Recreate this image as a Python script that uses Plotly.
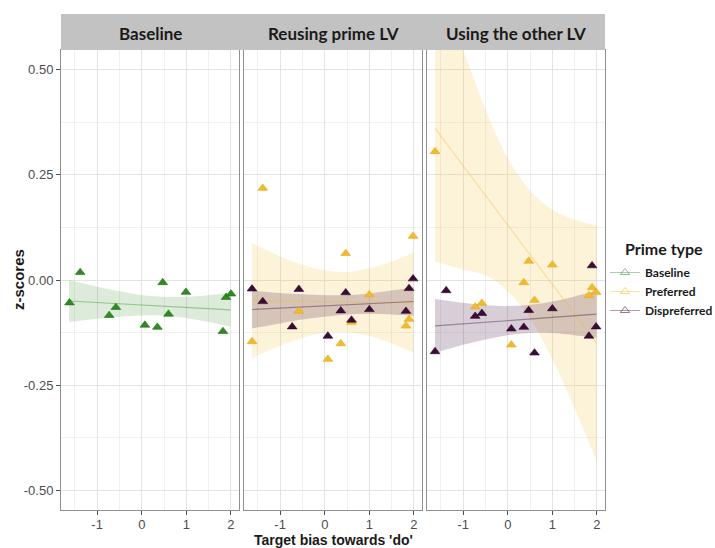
import plotly.graph_objects as go

# ---- data -------------------------------------------------------------
panel_titles = ["Baseline", "Reusing prime LV", "Using the other LV"]
group_names = ["Baseline", "Preferred", "Dispreferred"]
x_ticks = [-1, 0, 1, 2]
y_ticks = [-0.50, -0.25, 0.00, 0.25, 0.50]
y_tick_text = ["-0.50", "-0.25", "0.00", "0.25", "0.50"]

# points: target bias (x) vs z-score (y)
baseline_x = [-1.62, -1.38, -0.73, -0.58, 0.07, 0.35, 0.47, 0.60, 0.99, 1.82, 1.89, 2.00]
baseline_y = [-0.054, 0.018, -0.084, -0.065, -0.107, -0.112, -0.006, -0.081, -0.029, -0.122, -0.041, -0.033]

reuse_pref_x = [-1.63, -1.39, -0.58, 0.07, 0.36, 0.47, 0.60, 1.00, 1.82, 1.89, 1.98]
reuse_pref_y = [-0.146, 0.218, -0.074, -0.188, -0.151, 0.063, -0.100, -0.035, -0.109, -0.093, 0.104]
reuse_disp_x = [-1.63, -1.39, -0.73, -0.58, 0.07, 0.36, 0.47, 0.60, 1.00, 1.82, 1.89, 1.98]
reuse_disp_y = [-0.021, -0.051, -0.111, -0.022, -0.133, -0.073, -0.030, -0.095, -0.070, -0.074, -0.020, 0.003]

other_pref_x = [-1.63, -0.73, -0.58, 0.08, 0.36, 0.47, 0.60, 1.00, 1.82, 1.89, 1.98]
other_pref_y = [0.305, -0.064, -0.055, -0.154, -0.006, 0.045, -0.048, 0.036, -0.037, -0.018, -0.029]
other_disp_x = [-1.63, -1.38, -0.73, -0.58, 0.08, 0.36, 0.47, 0.60, 1.00, 1.82, 1.89, 1.98]
other_disp_y = [-0.170, -0.025, -0.086, -0.079, -0.116, -0.112, -0.072, -0.173, -0.068, -0.133, 0.034, -0.111]

# fitted lines (end points) and 95% confidence bands
fit_x = [-1.63, 1.99]
baseline_fit = [-0.050, -0.071]
reuse_pref_fit = [-0.049, -0.054]
reuse_disp_fit = [-0.070, -0.051]
other_pref_fit = [0.360, -0.150]
other_disp_fit = [-0.109, -0.081]

band_x = [-1.63, -1.0, -0.5, 0.0, 0.5, 1.0, 1.5, 1.99]
baseline_hi = [0.000, -0.016, -0.027, -0.036, -0.040, -0.040, -0.036, -0.031]
baseline_lo = [-0.100, -0.092, -0.087, -0.084, -0.084, -0.090, -0.100, -0.111]
reuse_pref_hi = [0.087, 0.056, 0.036, 0.023, 0.019, 0.028, 0.044, 0.065]
reuse_pref_lo = [-0.185, -0.156, -0.137, -0.125, -0.124, -0.133, -0.151, -0.173]
reuse_disp_hi = [-0.025, -0.031, -0.034, -0.036, -0.036, -0.032, -0.025, -0.017]
reuse_disp_lo = [-0.115, -0.103, -0.094, -0.087, -0.082, -0.080, -0.082, -0.085]
other_pref_hi = [0.690, 0.545, 0.405, 0.290, 0.212, 0.167, 0.143, 0.130]
other_pref_lo = [0.044, 0.025, 0.011, -0.027, -0.092, -0.189, -0.305, -0.430]
other_disp_hi = [-0.045, -0.054, -0.060, -0.062, -0.059, -0.051, -0.039, -0.025]
other_disp_lo = [-0.173, -0.154, -0.141, -0.131, -0.126, -0.126, -0.131, -0.137]

# ---- style ------------------------------------------------------------
COLORS = {"Baseline": (46, 139, 34), "Preferred": (243, 187, 43), "Dispreferred": (61, 11, 55)}
EDGE = {"Baseline": "#256f1b", "Preferred": "#e0a820", "Dispreferred": "#2a0626"}
BAND_ALPHA = {"Baseline": 0.17, "Preferred": 0.18, "Dispreferred": 0.20}
LINE_ALPHA = 0.4


def rgba(group, a):
    r, g, b = COLORS[group]
    return f"rgba({r},{g},{b},{a})"


panels = [
    [("Baseline", baseline_x, baseline_y, baseline_fit, baseline_hi, baseline_lo)],
    [("Preferred", reuse_pref_x, reuse_pref_y, reuse_pref_fit, reuse_pref_hi, reuse_pref_lo),
     ("Dispreferred", reuse_disp_x, reuse_disp_y, reuse_disp_fit, reuse_disp_hi, reuse_disp_lo)],
    [("Preferred", other_pref_x, other_pref_y, other_pref_fit, other_pref_hi, other_pref_lo),
     ("Dispreferred", other_disp_x, other_disp_y, other_disp_fit, other_disp_hi, other_disp_lo)],
]

fig = go.Figure()

for i, groups in enumerate(panels):
    sfx = "" if i == 0 else str(i + 1)
    xa, ya = "x" + sfx, "y" + sfx
    # confidence bands
    for g, px, py, fit, hi, lo in groups:
        fig.add_trace(go.Scatter(x=band_x, y=lo, mode="lines", line=dict(width=0, shape="spline"),
                                 xaxis=xa, yaxis=ya, showlegend=False, hoverinfo="skip"))
        fig.add_trace(go.Scatter(x=band_x, y=hi, mode="lines", line=dict(width=0, shape="spline"),
                                 fill="tonexty", fillcolor=rgba(g, BAND_ALPHA[g]),
                                 xaxis=xa, yaxis=ya, showlegend=False, hoverinfo="skip"))
    # fitted lines
    for g, px, py, fit, hi, lo in groups:
        fig.add_trace(go.Scatter(x=fit_x, y=fit, mode="lines", line=dict(width=1.1, color=rgba(g, LINE_ALPHA)),
                                 xaxis=xa, yaxis=ya, showlegend=False, hoverinfo="skip"))
    # points
    for g, px, py, fit, hi, lo in groups:
        fig.add_trace(go.Scatter(x=px, y=py, mode="markers",
                                 marker=dict(symbol="triangle-up", size=8.5, color=rgba(g, 1),
                                             line=dict(width=0.6, color=EDGE[g])),
                                 xaxis=xa, yaxis=ya, showlegend=False, name=g))

# legend entries
for g in group_names:
    fig.add_trace(go.Scatter(x=[None], y=[None], mode="lines+markers", name=f"<b>{g}</b>",
                             line=dict(width=1, color=rgba(g, LINE_ALPHA)),
                             marker=dict(symbol="triangle-up-open", size=8, color=rgba(g, 0.55),
                                         line=dict(width=1)),
                             showlegend=True))

# ---- layout -----------------------------------------------------------
W, H = 715, 548
ML, MR, MT, MB = 61, 110, 50, 38
PW = W - ML - MR          # 544
PH = H - MT - MB          # 460
panel_w, gap = 178, 5
domains = [[(k * (panel_w + gap)) / PW, (k * (panel_w + gap) + panel_w) / PW] for k in range(3)]

tick_font = dict(family="Liberation Sans, Arial, sans-serif", size=13, color="#4d4d4d")
axis_common = dict(showline=True, mirror=True, linecolor="#8f8f8f", linewidth=1,
                   showgrid=True, gridcolor="#e3e3e3", gridwidth=1, zeroline=False,
                   ticks="outside", ticklen=4, tickcolor="#4d4d4d", tickwidth=1,
                   tickfont=tick_font)

layout = dict(width=W, height=H, margin=dict(l=ML, r=MR, t=MT, b=MB, autoexpand=False),
              paper_bgcolor="white", plot_bgcolor="white",
              font=dict(family="Liberation Sans, Arial, sans-serif", color="#1a1a1a"))

for i in range(3):
    sfx = "" if i == 0 else str(i + 1)
    layout["xaxis" + sfx] = dict(axis_common, domain=domains[i], anchor="y" + sfx,
                                 range=[-1.81, 2.18], tickvals=x_ticks, ticktext=[str(v) for v in x_ticks],
                                 ticklabelstandoff=-2,
                                 minor=dict(tickvals=[-1.5, -0.5, 0.5, 1.5], showgrid=True,
                                            gridcolor="#f0f0f0", gridwidth=0.8, ticks=""))
    layout["yaxis" + sfx] = dict(axis_common, domain=[0, 1], anchor="x" + sfx,
                                 range=[-0.546, 0.546], tickvals=y_ticks, ticktext=y_tick_text,
                                 showticklabels=(i == 0), ticks="outside" if i == 0 else "",
                                 minor=dict(tickvals=[-0.375, -0.125, 0.125, 0.375], showgrid=True,
                                            gridcolor="#f0f0f0", gridwidth=0.8, ticks=""))

strip_h = 36 / PH
layout["shapes"] = [dict(type="rect", xref="paper", yref="paper", x0=0, x1=1, y0=1, y1=1 + strip_h,
                         fillcolor="#c2c2c2", line=dict(width=0), layer="above")]

annotations = []
for i, t in enumerate(panel_titles):
    annotations.append(dict(text=f"<b>{t}</b>", xref="paper", yref="paper",
                            x=(domains[i][0] + domains[i][1]) / 2, y=1 + 17 / PH,
                            xanchor="center", yanchor="middle", showarrow=False,
                            font=dict(family="Lato, Open Sans, sans-serif", size=17, color="#1a1a1a")))
annotations.append(dict(text="<b>z-scores</b>", xref="paper", yref="paper", x=(18 - ML) / PW, y=0.5,
                        xanchor="center", yanchor="middle", textangle=-90, showarrow=False,
                        font=dict(family="Liberation Sans, Arial, sans-serif", size=15, color="#1a1a1a")))
annotations.append(dict(text="<b>Target bias towards 'do'</b>", xref="paper", yref="paper", x=0.5,
                        y=-(539.5 - (MT + PH)) / PH, xanchor="center", yanchor="middle", showarrow=False,
                        font=dict(family="Liberation Sans, Arial, sans-serif", size=14, color="#1a1a1a")))
annotations.append(dict(text="<b>Prime type</b>", xref="paper", yref="paper", x=(623 - ML) / PW,
                        y=(MT + PH - 249) / PH, xanchor="left", yanchor="middle", showarrow=False,
                        font=dict(family="Lato, Open Sans, sans-serif", size=16, color="#1a1a1a")))
layout["annotations"] = annotations

layout["legend"] = dict(x=(605 - ML) / PW, xanchor="left", y=(MT + PH - 258) / PH, yanchor="top",
                        bgcolor="rgba(0,0,0,0)", borderwidth=0, tracegroupgap=0, traceorder="normal",
                        font=dict(family="Lato, Open Sans, sans-serif", size=12, color="#1a1a1a"))
layout["showlegend"] = True

fig.update_layout(**layout)
fig.write_html("out.html")
